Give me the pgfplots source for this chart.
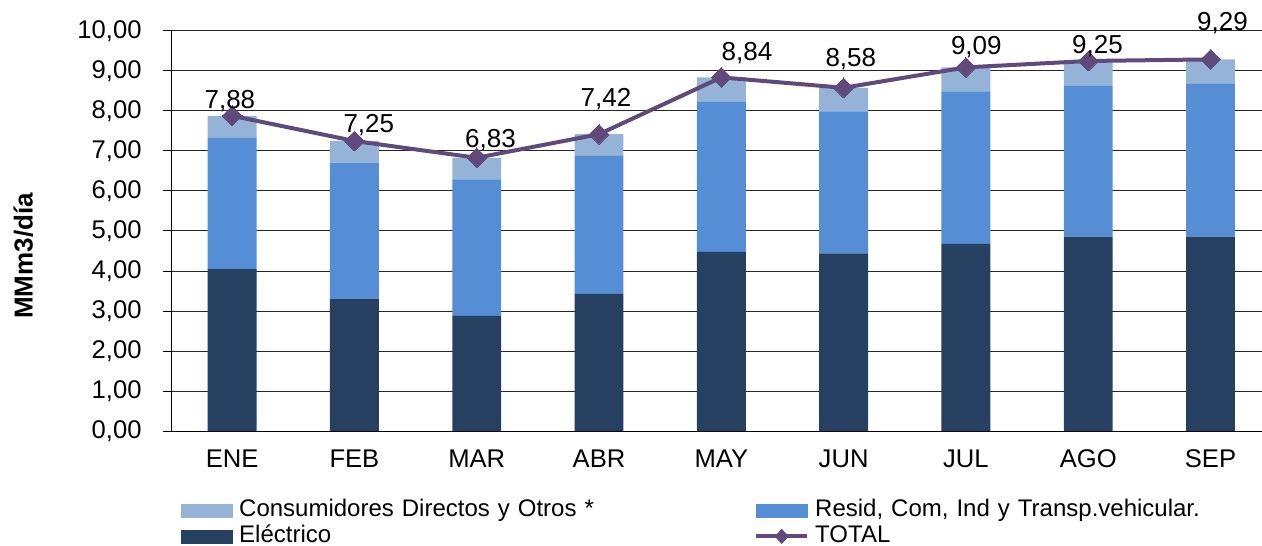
\documentclass[border=0pt]{standalone}
\usepackage{pgfplots}
\pgfplotsset{compat=1.18}
\usepackage{pgfplotstable}
\usepackage{fontspec}
\setmainfont{Liberation Sans}

\definecolor{elec}{HTML}{254061}
\definecolor{resid}{HTML}{558ED5}
\definecolor{cons}{HTML}{95B3D7}
\definecolor{tot}{HTML}{604A7B}

% consumo por sector, MMm3/dia; dx, dy = desplazamiento de la etiqueta (pt)
\pgfplotstableread{
x elec resid cons tot dx dy
0 4.05 3.28 0.55 7.88 -1.1 3.5
1 3.31 3.40 0.54 7.25 7.2 4.0
2 2.88 3.40 0.55 6.83 6.9 5.0
3 3.43 3.45 0.54 7.42 3.5 13.7
4 4.48 3.75 0.61 8.84 12.8 8.5
5 4.44 3.55 0.59 8.58 3.6 10.5
6 4.68 3.81 0.60 9.09 5.2 6.2
7 4.86 3.77 0.62 9.25 4.6 3.9
8 4.86 3.82 0.61 9.29 6.0 14.3
}\datos

\pgfplotsset{marco/.style={
  scale only axis, width=545.5pt, height=200pt,
  xmin=-0.5, xmax=8.421, ymin=0, ymax=10}}

\begin{document}
\begin{tikzpicture}
% barras apiladas, rejilla y eje y
\begin{axis}[
  marco,
  axis x line*=bottom, axis y line*=left,
  ybar stacked, bar width=0.4,
  ytick={0,1,...,10},
  ymajorgrids, grid style={black!85, line width=0.5pt},
  xtick=\empty,
  minor xtick={-0.5,0.5,...,7.5},
  tick align=outside,
  major tick length=4pt, minor tick length=3pt,
  every tick/.append style={black, line width=0.5pt},
  every minor tick/.append style={black, line width=0.5pt},
  tick label style={font=\fontsize{12.8}{15}\selectfont},
  yticklabel style={anchor=east, inner sep=0pt, xshift=-10.5pt,
    /pgf/number format/.cd, use comma, fixed, fixed zerofill, precision=2,
    assume math mode=true},
  ylabel={MMm3/día},
  every axis y label/.style={at={(rel axis cs:-0.1352,0.4375)}, rotate=90, anchor=center},
  ylabel style={font=\bfseries\fontsize{13}{15}\selectfont},
]
\addplot[fill=elec, draw=none] table[x=x, y=elec] {\datos};
\addplot[fill=resid, draw=none] table[x=x, y=resid] {\datos};
\addplot[fill=cons, draw=none] table[x=x, y=cons] {\datos};

\coordinate (bl) at (rel axis cs:-0.1567,-0.285);
\coordinate (tr) at (rel axis cs:1,1.0775);
\end{axis}

% linea TOTAL, meses y leyenda
\begin{axis}[
  marco,
  axis x line*=bottom, axis y line=none,
  x axis line style={draw=none},
  xtick={0,...,8},
  xticklabels={ENE,FEB,MAR,ABR,MAY,JUN,JUL,AGO,SEP},
  xtick style={draw=none},
  ytick=\empty,
  tick label style={font=\fontsize{12.8}{15}\selectfont},
  xticklabel style={anchor=north, inner sep=0pt, yshift=-9pt},
  legend columns=2,
  legend cell align=left,
  legend style={at={(rel axis cs:0.0092,-0.165)}, anchor=north west,
    draw=none, fill=none, inner sep=0pt,
    font=\fontsize{12}{14}\selectfont,
    nodes={inner sep=0.5pt, text height=9pt, text depth=3pt, text width=257pt, align=left},
    /tikz/every odd column/.append style={column sep=2.5pt},
    /tikz/every even column/.append style={column sep=0pt}},
]
\addplot[forget plot, sharp plot, color=tot, line width=2pt,
  mark=square*, mark size=3.5pt, mark options={rotate=45, fill=tot, draw=tot, line width=0pt},
  visualization depends on={\thisrow{dx} \as \dx},
  visualization depends on={\thisrow{dy} \as \dy},
  nodes near coords={\pgfmathprintnumber[fixed, fixed zerofill, precision=2, use comma, assume math mode=true]{\pgfplotspointmeta}},
  every node near coord/.append style={anchor=base, xshift=\dx pt, yshift=\dy pt,
    text=black, inner sep=0pt, font=\fontsize{13}{15}\selectfont}]
  table[x=x, y=tot] {\datos};

\addlegendimage{legend image code/.code={\fill[cons] (0pt,-3.25pt) rectangle (25.5pt,3.25pt);}}
\addlegendentry{Consumidores Directos y Otros *}
\addlegendimage{legend image code/.code={\fill[resid] (0pt,-3.25pt) rectangle (25.5pt,3.25pt);}}
\addlegendentry{Resid, Com, Ind y Transp.vehicular.}
\addlegendimage{legend image code/.code={\fill[elec] (0pt,-3.25pt) rectangle (25.5pt,3.25pt);}}
\addlegendentry{Eléctrico}
\addlegendimage{legend image code/.code={\draw[tot, line width=2pt] (0pt,0pt) -- (25.5pt,0pt);
  \fill[tot] (12.75pt,3.5pt) -- (16pt,0pt) -- (12.75pt,-3.5pt) -- (9.5pt,0pt) -- cycle;}}
\addlegendentry{TOTAL}
\end{axis}
\pgfresetboundingbox
\path[use as bounding box] (bl) rectangle (tr);
\end{tikzpicture}
\end{document}
